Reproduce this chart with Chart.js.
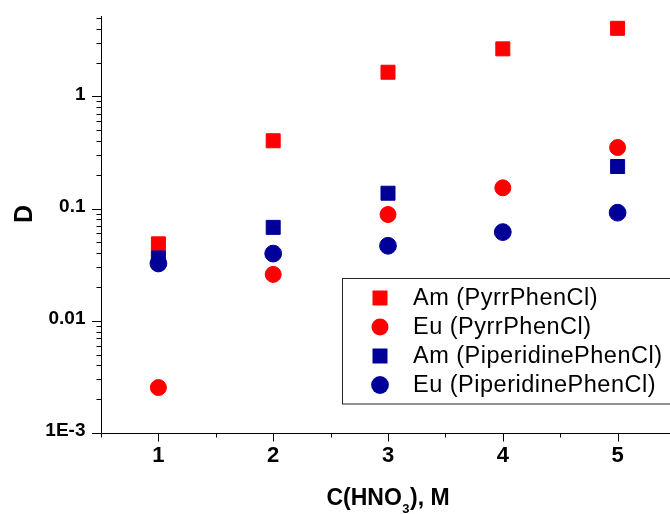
<!DOCTYPE html>
<html>
<head>
<meta charset="utf-8">
<script src="https://cdn.jsdelivr.net/npm/chart.js@4/dist/chart.umd.min.js"></script>
<style>
  html, body { margin: 0; padding: 0; background: #fff; overflow: hidden; }
  #wrap { width: 690px; height: 514px; }
</style>
</head>
<body>
<div id="wrap"><canvas id="c" width="690" height="514"></canvas></div>
<script>
// HNO3 concentration, M
const acidConc = [1, 2, 3, 4, 5];

// Distribution ratios D
const amPyrr = [0.0485, 0.402, 1.64, 2.65, 4.04];
const euPyrr = [0.00254, 0.0259, 0.0885, 0.153, 0.350];
const amPiper = [0.0363, 0.068, 0.137, null, 0.237];
const euPiper = [0.0324, 0.0397, 0.0466, 0.0617, 0.0919];

const seriesLabels = [
  'Am (PyrrPhenCl)',
  'Eu (PyrrPhenCl)',
  'Am (PiperidinePhenCl)',
  'Eu (PiperidinePhenCl)'
];

// Tick labels on the log axis
const decadeLabels = { 1: '1', 0.1: '0.1', 0.01: '0.01', 0.001: '1E-3' };

const RED = '#ff0000';
const NAVY = '#000099';
const FONT = '"Liberation Sans", Arial, sans-serif';

function toPoints(values) {
  const pts = [];
  values.forEach((v, i) => { if (v !== null) pts.push({ x: acidConc[i], y: v }); });
  return pts;
}

function makeSet(label, values, color, style, radius, order) {
  return {
    label,
    data: toPoints(values),
    pointStyle: style,
    pointRadius: radius,
    pointHoverRadius: radius,
    backgroundColor: color,
    borderColor: color,
    borderWidth: 1,
    showLine: false,
    order
  };
}

const datasets = [
  makeSet(seriesLabels[0], amPyrr, RED, 'rect', 9.9, 3),
  makeSet(seriesLabels[1], euPyrr, RED, 'circle', 8, 2),
  makeSet(seriesLabels[2], amPiper, NAVY, 'rect', 9.9, 1),
  makeSet(seriesLabels[3], euPiper, NAVY, 'circle', 8.4, 0)
];

// Tick marks (major and minor), axis titles and the framed legend
const decorations = {
  id: 'decorations',
  afterDraw(chart) {
    const ctx = chart.ctx;
    const xs = chart.scales.x;
    const ys = chart.scales.y;
    const area = chart.chartArea;
    ctx.save();
    ctx.strokeStyle = '#000';
    ctx.lineWidth = 1;

    // y ticks
    ctx.beginPath();
    for (let e = -3; e <= 0; e++) {
      for (let m = 1; m <= 9; m++) {
        const v = m * Math.pow(10, e);
        if (v < ys.min - 1e-12 || v > ys.max) continue;
        const py = Math.round(ys.getPixelForValue(v)) + 0.5;
        const len = m === 1 ? 9 : 4.5;
        ctx.moveTo(area.left - len, py);
        ctx.lineTo(area.left, py);
      }
    }
    // x ticks
    for (let v = xs.min; v <= xs.max + 1e-9; v += 0.5) {
      const px = Math.round(xs.getPixelForValue(v)) + 0.5;
      const len = Number.isInteger(v) ? 8.5 : 4.5;
      ctx.moveTo(px, area.bottom);
      ctx.lineTo(px, area.bottom + len);
    }
    ctx.stroke();

    // axis titles
    ctx.fillStyle = '#000';
    ctx.font = 'bold 25px ' + FONT;
    ctx.textAlign = 'center';
    ctx.textBaseline = 'middle';
    ctx.save();
    ctx.translate(24, 214);
    ctx.rotate(-Math.PI / 2);
    ctx.fillText('D', 0, 1);
    ctx.restore();

    const partA = 'C(HNO';
    const sub = '3';
    const partB = '), M';
    const mainFont = 'bold 23px ' + FONT;
    const subFont = 'bold 13px ' + FONT;
    ctx.textAlign = 'left';
    ctx.textBaseline = 'alphabetic';
    ctx.font = mainFont;
    const wA = ctx.measureText(partA).width;
    const wB = ctx.measureText(partB).width;
    ctx.font = subFont;
    const wS = ctx.measureText(sub).width + 1;
    const cx = (xs.getPixelForValue(3));
    let tx = cx - (wA + wS + wB) / 2;
    const base = 505;
    ctx.font = mainFont;
    ctx.fillText(partA, tx, base);
    tx += wA;
    ctx.font = subFont;
    ctx.fillText(sub, tx + 0.5, base + 8);
    tx += wS;
    ctx.font = mainFont;
    ctx.fillText(partB, tx, base);

    // legend
    ctx.lineWidth = 1;
    ctx.strokeStyle = '#222';
    ctx.strokeRect(342.5, 278.5, 420, 125.5);
    const rowY = [298, 327, 356, 385];
    ctx.font = '23.5px ' + FONT;
    ctx.letterSpacing = '0.5px';
    ctx.textBaseline = 'middle';
    chart.data.datasets.forEach((ds, i) => {
      const y = rowY[i];
      const x = 380;
      ctx.fillStyle = ds.backgroundColor;
      ctx.beginPath();
      if (ds.pointStyle === 'rect') {
        const h = ds.pointRadius * Math.SQRT1_2 + 0.5;
        ctx.rect(x - h, y - h, 2 * h, 2 * h);
      } else {
        ctx.arc(x, y, ds.pointRadius + 0.5, 0, Math.PI * 2);
      }
      ctx.fill();
      ctx.fillStyle = '#000';
      ctx.fillText(ds.label, 413, y + 1);
    });
    ctx.restore();
  }
};

new Chart(document.getElementById('c'), {
  type: 'scatter',
  data: { datasets },
  plugins: [decorations],
  options: {
    responsive: false,
    animation: false,
    layout: { padding: { top: 16, right: 15, left: 0, bottom: 0 } },
    plugins: { legend: { display: false }, tooltip: { enabled: false } },
    scales: {
      x: {
        type: 'linear',
        min: 0.5,
        max: 5.5,
        afterFit(scale) {
          scale.height = 81;
          scale.paddingLeft = 0;
          scale.paddingRight = 0;
        },
        grid: { display: false, drawTicks: false },
        border: { display: true, color: '#000', width: 1 },
        ticks: {
          stepSize: 0.5,
          autoSkip: false,
          maxRotation: 0,
          padding: 10,
          color: '#000',
          font: { family: FONT, size: 22, weight: 'bold' },
          callback: (v) => Number.isInteger(v) ? String(v) : ''
        }
      },
      y: {
        type: 'logarithmic',
        min: 0.001,
        max: 5.2,
        afterFit(scale) {
          scale.width = 101;
          scale.paddingTop = 0;
          scale.paddingBottom = 0;
        },
        grid: { display: false, drawTicks: false },
        border: { display: true, color: '#000', width: 1 },
        ticks: {
          autoSkip: false,
          padding: 15.5,
          labelOffset: -2,
          color: '#000',
          font: { family: FONT, size: 19, weight: 'bold' },
          callback: (v) => {
            for (const k in decadeLabels) {
              if (Math.abs(v - Number(k)) < Number(k) * 1e-6) return decadeLabels[k];
            }
            return '';
          }
        }
      }
    }
  }
});
</script>
</body>
</html>
